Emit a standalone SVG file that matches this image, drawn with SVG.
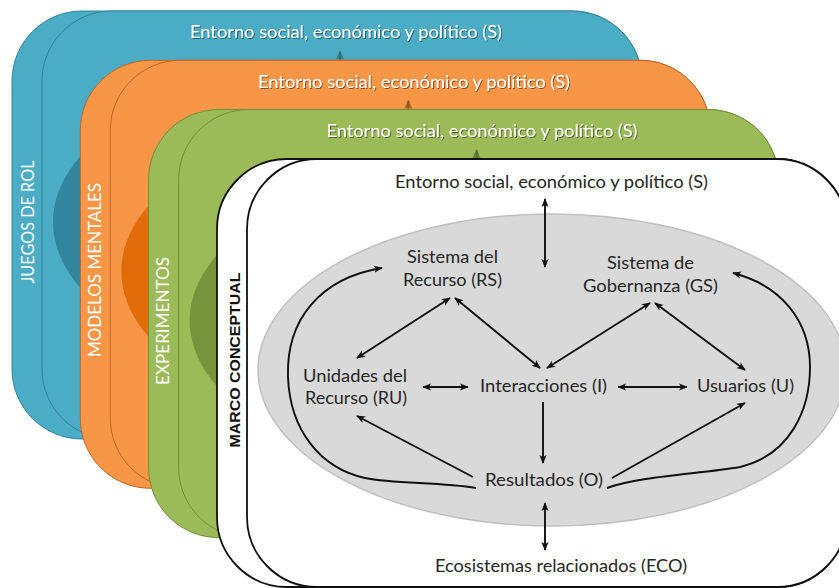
<svg xmlns="http://www.w3.org/2000/svg" width="839" height="588" viewBox="0 0 839 588">
  <defs>
    <style>
      .title { font-family: Lato, "Open Sans", "Liberation Sans", sans-serif; font-size: 17.5px; text-anchor: middle; }
      .lightTitle { fill: #ffffff; filter: url(#shadow); }
      .stripLabel { font-family: Lato, "Open Sans", "Liberation Sans", sans-serif; font-size: 16.5px; fill: #ffffff; text-anchor: middle; dominant-baseline: central; }
      .label { font-family: Lato, "Open Sans", "Liberation Sans", sans-serif; font-size: 17.5px; fill: #262626; text-anchor: middle; }
      .conn { fill: none; stroke: #111111; stroke-width: 1.9; }
      .one { marker-end: url(#head); }
      .two { marker-start: url(#head); marker-end: url(#head); }
    </style>
    <filter id="shadow" x="-5%" y="-40%" width="110%" height="180%">
      <feDropShadow dx="1" dy="1" stdDeviation="0.7" flood-color="#000000" flood-opacity="0.45"/>
    </filter>
    <marker id="head" viewBox="0 0 10 10" refX="9" refY="5" markerWidth="9" markerHeight="9" markerUnits="userSpaceOnUse" orient="auto-start-reverse">
      <path d="M0,1 L10,5 L0,9 L2.5,5 z" fill="#111111"/>
    </marker>
  </defs>

  <!-- Back card: role-play games -->
  <g id="card-juegos">
    <rect x="12" y="11" width="630" height="428" rx="70" ry="70" fill="#4bacc6" stroke="#31849b" stroke-width="1"/>
    <rect x="42" y="11" width="600" height="428" rx="70" ry="70" fill="#4bacc6" stroke="#31849b" stroke-width="1"/>
    <ellipse cx="347" cy="222" rx="294" ry="156" fill="#31859c"/>
    <path d="M340,52 V120" stroke="#2d5f6e" stroke-width="2" opacity="0.6"/>
    <path d="M336,59 L340,50 L344,59 z" fill="#2d5f6e" opacity="0.6"/>
    <text class="title lightTitle" x="346" y="38" textLength="312" lengthAdjust="spacingAndGlyphs">Entorno social, económico y político (S)</text>
    <text class="stripLabel" transform="translate(28,222) rotate(-90)" textLength="123" lengthAdjust="spacingAndGlyphs">JUEGOS DE ROL</text>
  </g>

  <!-- Second card: mental models -->
  <g id="card-modelos">
    <rect x="80.3" y="60.3" width="630" height="428" rx="70" ry="70" fill="#f79646" stroke="#c0652a" stroke-width="1"/>
    <rect x="110.3" y="60.3" width="600" height="428" rx="70" ry="70" fill="#f79646" stroke="#c0652a" stroke-width="1"/>
    <ellipse cx="415.3" cy="271.3" rx="294" ry="156" fill="#e36c0a"/>
    <path d="M408.3,101 V170" stroke="#8a4a1c" stroke-width="2" opacity="0.6"/>
    <path d="M404.3,108.5 L408.3,99.5 L412.3,108.5 z" fill="#8a4a1c" opacity="0.6"/>
    <text class="title lightTitle" x="414" y="88" textLength="312" lengthAdjust="spacingAndGlyphs">Entorno social, económico y político (S)</text>
    <text class="stripLabel" transform="translate(95,270) rotate(-90)" textLength="174" lengthAdjust="spacingAndGlyphs">MODELOS MENTALES</text>
  </g>

  <!-- Third card: experiments -->
  <g id="card-experimentos">
    <rect x="148.6" y="109.6" width="630" height="428" rx="70" ry="70" fill="#9bbb59" stroke="#6f8f35" stroke-width="1"/>
    <rect x="178.6" y="109.6" width="600" height="428" rx="70" ry="70" fill="#9bbb59" stroke="#6f8f35" stroke-width="1"/>
    <ellipse cx="483.6" cy="320.6" rx="294" ry="156" fill="#77933c"/>
    <path d="M476.6,150 V219" stroke="#4d6128" stroke-width="2" opacity="0.6"/>
    <path d="M472.6,158 L476.6,149 L480.6,158 z" fill="#4d6128" opacity="0.6"/>
    <text class="title lightTitle" x="482" y="137" textLength="311" lengthAdjust="spacingAndGlyphs">Entorno social, económico y político (S)</text>
    <text class="stripLabel" transform="translate(163,321) rotate(-90)" textLength="128" lengthAdjust="spacingAndGlyphs">EXPERIMENTOS</text>
  </g>

  <!-- Front card: conceptual framework -->
  <g id="card-marco">
    <rect x="217" y="159" width="630" height="428" rx="70" ry="70" fill="#ffffff" stroke="#111111" stroke-width="1.8"/>
    <rect x="247" y="159" width="600" height="428" rx="70" ry="70" fill="#ffffff" stroke="#111111" stroke-width="1.8"/>
    <ellipse id="system-ellipse" cx="552" cy="370" rx="294" ry="156" fill="#d9d9d9" stroke="#bfbfbf" stroke-width="1.5"/>
    <text transform="translate(234,360) rotate(-90)" font-family="'Liberation Sans', Arial, sans-serif" font-size="15.5" font-weight="bold" fill="#111111" text-anchor="middle" dominant-baseline="central" textLength="175" lengthAdjust="spacingAndGlyphs">MARCO CONCEPTUAL</text>
  </g>

  <g id="node-s">
    <text class="label" x="551.5" y="188" textLength="313" lengthAdjust="spacingAndGlyphs">Entorno social, económico y político (S)</text>
  </g>
  <g id="node-rs">
    <text class="label" x="452.5" y="263" textLength="91" lengthAdjust="spacingAndGlyphs">Sistema del</text>
    <text class="label" x="452.5" y="286" textLength="99" lengthAdjust="spacingAndGlyphs">Recurso (RS)</text>
  </g>
  <g id="node-gs">
    <text class="label" x="650.5" y="269" textLength="87" lengthAdjust="spacingAndGlyphs">Sistema de</text>
    <text class="label" x="650.5" y="292" textLength="135" lengthAdjust="spacingAndGlyphs">Gobernanza (GS)</text>
  </g>
  <g id="node-ru">
    <text class="label" x="355" y="382" textLength="104" lengthAdjust="spacingAndGlyphs">Unidades del</text>
    <text class="label" x="356" y="404" textLength="102" lengthAdjust="spacingAndGlyphs">Recurso (RU)</text>
  </g>
  <g id="node-i">
    <text class="label" x="543.5" y="392" textLength="127" lengthAdjust="spacingAndGlyphs">Interacciones (I)</text>
  </g>
  <g id="node-u">
    <text class="label" x="745.5" y="392" textLength="97" lengthAdjust="spacingAndGlyphs">Usuarios (U)</text>
  </g>
  <g id="node-o">
    <text class="label" x="544" y="486" textLength="118" lengthAdjust="spacingAndGlyphs">Resultados (O)</text>
  </g>
  <g id="node-eco">
    <text class="label" x="561" y="572" textLength="252" lengthAdjust="spacingAndGlyphs">Ecosistemas relacionados (ECO)</text>
  </g>

  <g id="connectors">
    <path class="conn two" d="M545,199 V267"/>
    <path class="conn two" d="M450,298 L357,358"/>
    <path class="conn two" d="M455,298 L540,368"/>
    <path class="conn two" d="M547,368 L650,303"/>
    <path class="conn two" d="M655,303 L745,370"/>
    <path class="conn two" d="M423,387 H468"/>
    <path class="conn two" d="M618,387 H687"/>
    <path class="conn one" d="M543,402 V463"/>
    <path class="conn one" d="M473,477 L357,416"/>
    <path class="conn one" d="M612,478 L745,403"/>
    <path class="conn two" d="M545,503 V550"/>
    <path class="conn one" d="M476,488 C440,482 395,484 365,478 C320,468 290,430 288,377 C286,320 320,278 382,268"/>
    <path class="conn one" d="M607,488 C640,476 700,474 740,467 C790,455 810,410 810,367 C810,320 780,285 733,273"/>
  </g>
</svg>
